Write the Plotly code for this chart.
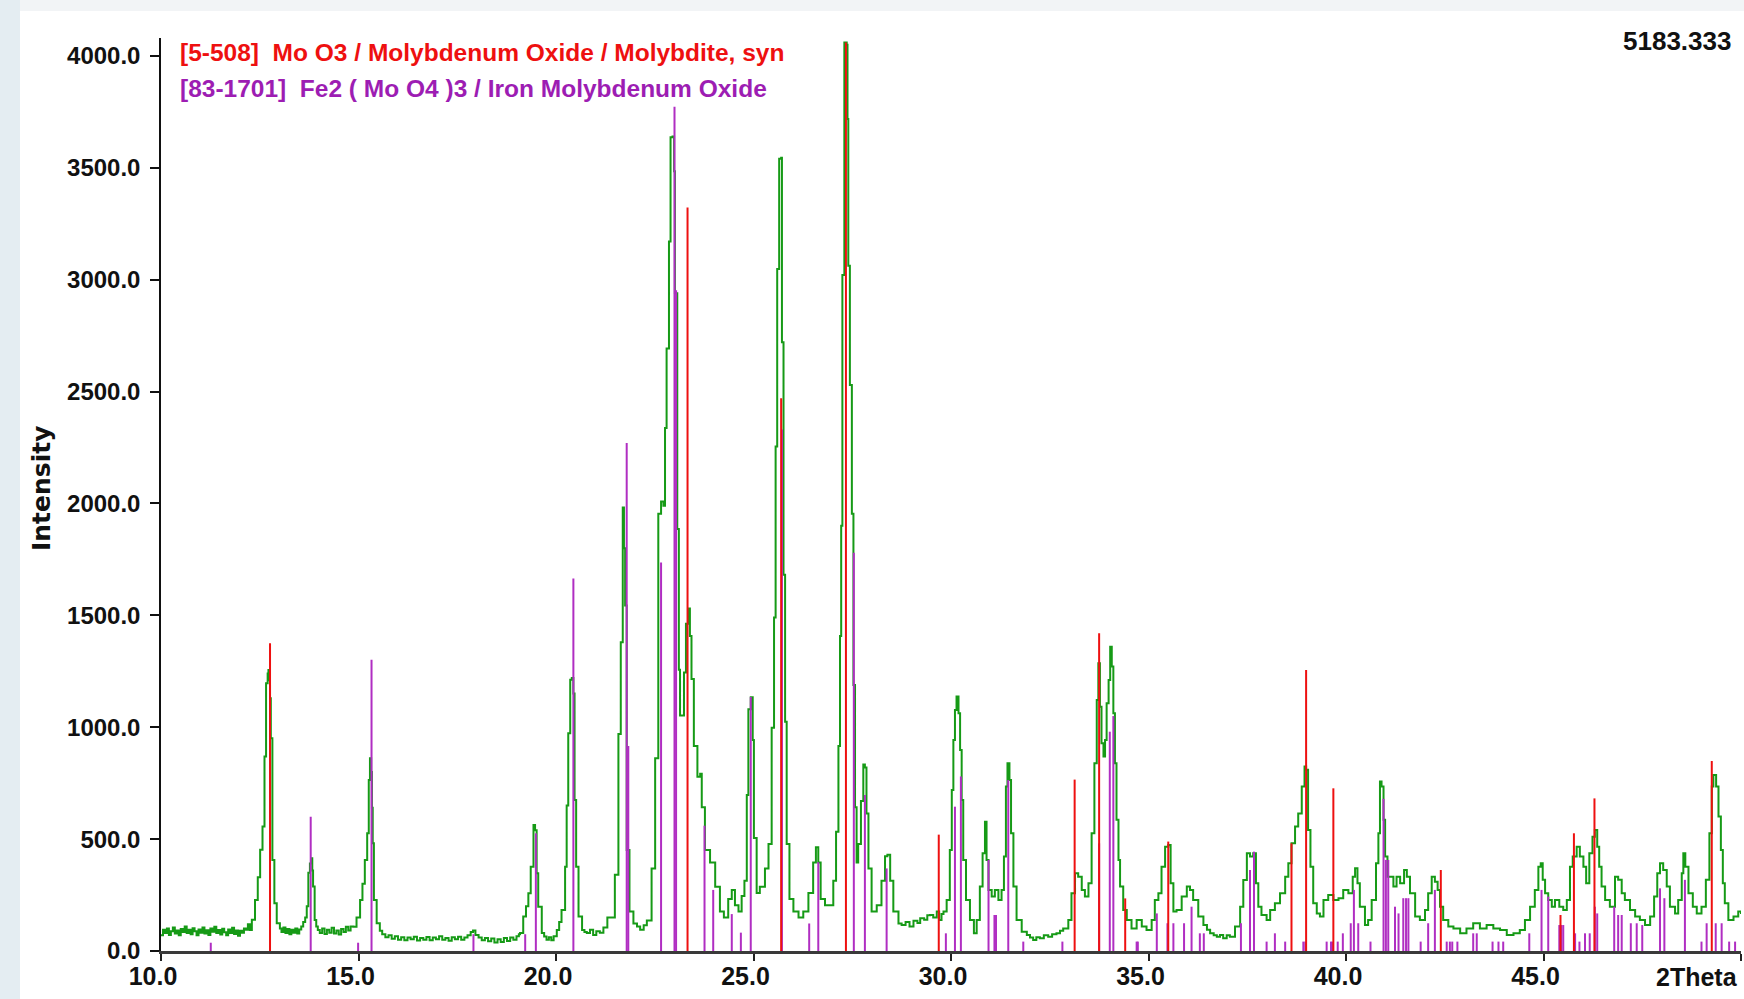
import plotly.graph_objects as go

# ---------------- data ----------------
two_theta = [
    10.00, 10.05, 10.10, 10.15, 10.20, 10.25, 10.30, 10.35, 10.40, 10.45, 10.50, 10.55, 10.60, 10.65,
    10.70, 10.75, 10.80, 10.85, 10.90, 10.95, 11.00, 11.05, 11.10, 11.15, 11.20, 11.25, 11.30, 11.35,
    11.40, 11.45, 11.50, 11.55, 11.60, 11.65, 11.70, 11.75, 11.80, 11.85, 11.90, 11.95, 12.00, 12.05,
    12.10, 12.15, 12.20,
    12.25, 12.30, 12.38, 12.45, 12.51, 12.57, 12.62, 12.66, 12.70, 12.72, 12.74, 12.76, 12.78, 12.82,
    12.87, 12.93, 13.01,
    13.05, 13.10, 13.15, 13.20, 13.25, 13.30, 13.35, 13.40, 13.45, 13.50, 13.55, 13.60,
    13.65, 13.69, 13.73, 13.77, 13.80, 13.83, 13.85, 13.89, 13.93, 13.97,
    14.02, 14.08, 14.14, 14.20, 14.26, 14.32, 14.38, 14.44, 14.50, 14.56, 14.62, 14.68, 14.74, 14.80,
    14.87, 14.95, 15.04, 15.10, 15.16, 15.22, 15.26, 15.29, 15.32, 15.34, 15.36, 15.39, 15.46, 15.54,
    15.60, 15.68, 15.76, 15.84, 15.92, 16.00, 16.08, 16.16, 16.24, 16.32, 16.40, 16.48, 16.56, 16.64,
    16.72, 16.80, 16.88, 16.96, 17.04, 17.12, 17.20, 17.28, 17.36, 17.44, 17.52, 17.60, 17.68, 17.76,
    17.84, 17.90, 17.96, 18.04, 18.12, 18.20, 18.28, 18.36, 18.44, 18.52, 18.60, 18.68, 18.76, 18.84,
    18.92, 19.00, 19.06,
    19.09, 19.17, 19.24, 19.30, 19.36, 19.43, 19.47, 19.51, 19.55, 19.64, 19.70, 19.76,
    19.82, 19.88, 19.94, 20.02,
    20.08, 20.14, 20.23, 20.27, 20.31, 20.36, 20.40, 20.44, 20.47, 20.51, 20.57, 20.66, 20.72, 20.78,
    20.86, 20.94, 21.02, 21.11, 21.20, 21.30,
    21.37, 21.49, 21.58, 21.64, 21.69, 21.72, 21.75, 21.79, 21.86, 21.96, 22.05, 22.13, 22.22, 22.30,
    22.42, 22.51, 22.59, 22.66, 22.72, 22.76, 22.80, 22.86, 22.90, 22.95, 22.99, 23.01, 23.07, 23.11,
    23.14, 23.21, 23.24, 23.29, 23.35, 23.39, 23.43, 23.49, 23.58, 23.65, 23.69, 23.77, 23.90, 24.03,
    24.15, 24.25, 24.36, 24.45, 24.53, 24.62, 24.70, 24.77, 24.83, 24.87, 24.93, 24.98, 25.01, 25.08,
    25.16, 25.29, 25.38, 25.46, 25.52, 25.56, 25.60, 25.65, 25.70, 25.72, 25.76, 25.80, 25.84, 25.91,
    26.01, 26.14, 26.26, 26.39, 26.51, 26.58, 26.64, 26.70, 26.81, 26.94, 27.02, 27.09, 27.15, 27.19,
    27.22, 27.25, 27.30, 27.36, 27.38, 27.40, 27.44, 27.49, 27.53, 27.57, 27.61, 27.65, 27.72, 27.78,
    27.82, 27.86, 27.91, 27.99, 28.12, 28.24, 28.33, 28.39, 28.46, 28.54, 28.67,
    28.75, 28.85, 28.95, 29.05, 29.15, 29.22, 29.32, 29.40, 29.47, 29.55, 29.64, 29.70, 29.76, 29.81,
    29.89, 29.97, 30.02, 30.06, 30.10, 30.14, 30.19, 30.23, 30.27, 30.31, 30.38, 30.48, 30.58, 30.65,
    30.73, 30.80, 30.86, 30.90, 30.95, 31.03, 31.11, 31.20, 31.28, 31.34, 31.39, 31.43, 31.48, 31.52,
    31.58, 31.66, 31.79, 31.92, 32.00, 32.08, 32.16, 32.25, 32.35, 32.46, 32.56, 32.67, 32.76, 32.84,
    32.97, 33.05, 33.14, 33.22, 33.31, 33.39, 33.48, 33.56, 33.63, 33.69, 33.73, 33.77, 33.81, 33.86,
    33.90, 33.94, 33.99, 34.03, 34.07, 34.11, 34.15, 34.19, 34.24, 34.28, 34.36, 34.45, 34.57, 34.70,
    34.83, 34.95, 35.08, 35.16, 35.25, 35.33, 35.42, 35.50, 35.56, 35.63, 35.71, 35.84, 35.97, 36.05,
    36.13, 36.26, 36.39, 36.48, 36.56, 36.65, 36.73, 36.81, 36.89, 36.98, 37.06, 37.19, 37.32, 37.40,
    37.49, 37.57, 37.65, 37.72, 37.78, 37.86, 37.99, 38.08, 38.20, 38.33, 38.46, 38.54, 38.62, 38.71,
    38.79, 38.88, 38.95, 38.99, 39.04, 39.10, 39.17, 39.26, 39.34, 39.43, 39.55, 39.68, 39.81, 39.93,
    40.06, 40.17, 40.23, 40.29, 40.35, 40.48, 40.56, 40.65, 40.76, 40.82, 40.86, 40.90, 40.95, 40.99,
    41.05, 41.11, 41.20, 41.28, 41.37, 41.47, 41.54, 41.62, 41.75, 41.87, 42.00, 42.08, 42.17, 42.25,
    42.32, 42.38, 42.46, 42.59, 42.72, 42.89, 43.05, 43.22, 43.39, 43.56, 43.73, 43.90, 44.07, 44.24,
    44.40, 44.53, 44.66, 44.78, 44.87, 44.93, 44.98, 45.04, 45.12, 45.21, 45.29, 45.40, 45.50, 45.59,
    45.67, 45.74, 45.84, 45.92, 46.01, 46.08, 46.16, 46.24, 46.30, 46.36, 46.41, 46.47, 46.56, 46.68,
    46.81, 46.89, 46.98, 47.06, 47.19, 47.32, 47.44, 47.57, 47.70, 47.80, 47.88, 47.95, 48.03, 48.12,
    48.20, 48.33, 48.41, 48.50, 48.54, 48.59, 48.67, 48.78, 48.88, 49.00, 49.11, 49.20, 49.26, 49.30,
    49.37, 49.43, 49.49, 49.54, 49.59, 49.68, 49.81, 49.93, 50.00,
]
counts = [
    70, 95, 80, 100, 72, 88, 105, 78, 92, 70, 98, 85, 110, 80,
    95, 75, 102, 88, 70, 96, 82, 105, 78, 93, 72, 100, 86, 108,
    80, 94, 74, 99, 84, 70, 96, 80, 104, 76, 92, 68, 90, 82,
    100, 95, 120,
    94, 140, 228, 330, 452, 556, 869, 1196, 1240, 1256, 1210, 1130, 951, 407,
    213, 124, 100,
    85, 105, 80, 98, 75, 95, 82, 100, 78, 96, 110, 130,
    150, 200, 350, 391, 414, 360, 288, 139, 110, 94,
    80, 100, 76, 95, 82, 104, 78, 92, 74, 98, 85, 108, 92, 110,
    108, 150, 228, 300, 407, 526, 764, 861, 800, 640, 481, 228, 124, 90,
    75, 62, 70, 55, 66, 50, 62, 48, 60, 52, 64, 47, 58, 50,
    63, 48, 60, 52, 66, 50, 58, 46, 62, 52, 64, 50, 60, 70,
    85, 92, 72, 60, 48, 58, 44, 56, 38, 52, 40, 58, 45, 60,
    50, 66, 75,
    80, 154, 200, 258, 377, 563, 540, 347, 198, 80, 65, 50,
    62, 48, 66, 94,
    130, 183, 377, 650, 973, 1212, 1220, 1151, 675, 377, 154, 94, 85, 80,
    95, 72, 88, 82, 105, 150,
    150, 341, 970, 1380, 1982, 1800, 1544, 451, 177, 123, 110, 95, 115, 136,
    369, 861, 1954, 2009, 1990, 2337, 2693, 3171, 3636, 3640, 3485, 2939, 1886, 1257,
    1052, 1052, 1244, 1462, 1531, 1408, 1216, 916, 779, 792, 642, 451, 396, 287,
    177, 150, 232, 273, 205, 177, 246, 314, 697, 1080, 1134, 943, 505, 259,
    287, 369, 478, 998, 1490, 2255, 3048, 3540, 3545, 2720, 1681, 1025, 478, 232,
    177, 150, 177, 259, 396, 464, 396, 232, 205, 205, 314, 533, 916, 1408,
    1900, 3021, 4060, 4050, 3718, 3062, 2529, 1954, 1189, 642, 396, 478, 670, 833,
    820, 615, 369, 177, 205, 314, 423, 430, 314, 177, 123,
    116, 130, 110, 135, 125, 146, 140, 160, 161, 150, 176, 139, 165, 176,
    228, 451, 720, 943, 1077, 1137, 1062, 898, 675, 407, 228, 139, 79, 139,
    288, 437, 578, 407, 273, 243, 273, 228, 273, 422, 735, 839, 764, 526,
    288, 139, 86, 72, 60, 49, 62, 57, 70, 64, 75, 79, 90, 101,
    139, 258, 347, 332, 273, 243, 303, 526, 839, 1122, 1286, 1092, 928, 869,
    943, 1107, 1211, 1360, 1271, 1062, 839, 586, 407, 288, 183, 139, 101, 139,
    109, 94, 139, 228, 258, 377, 466, 474, 303, 176, 183, 243, 288, 273,
    228, 154, 116, 95, 79, 70, 64, 72, 57, 70, 64, 109, 198, 317,
    437, 422, 437, 303, 198, 161, 139, 183, 213, 258, 332, 392, 481, 556,
    615, 735, 824, 810, 541, 377, 213, 168, 154, 228, 250, 228, 236, 273,
    258, 332, 370, 303, 198, 116, 139, 228, 392, 526, 757, 735, 586, 422,
    332, 332, 288, 332, 303, 362, 332, 258, 154, 139, 183, 258, 332, 310,
    273, 198, 139, 109, 101, 79, 101, 124, 101, 116, 101, 94, 72, 79,
    94, 139, 198, 273, 377, 392, 318, 258, 228, 198, 228, 198, 183, 228,
    377, 422, 466, 422, 377, 303, 437, 511, 541, 466, 377, 288, 228, 198,
    332, 318, 258, 228, 183, 154, 139, 116, 154, 243, 347, 392, 362, 288,
    198, 168, 228, 347, 437, 377, 258, 198, 168, 198, 318, 526, 735, 787,
    735, 601, 451, 303, 213, 139, 154, 176, 165,
]

# [5-508] MoO3 reference lines
moo3_pos = [12.76, 23.33, 25.70, 27.34, 29.69, 33.13, 33.75, 34.41, 35.50, 38.62, 38.99,
            39.68, 42.40, 45.43, 45.77, 46.29, 49.26]
moo3_int = [1375, 3322, 2470, 4060, 520, 766, 1420, 235, 489, 481, 1256,
            727, 362, 161, 526, 682, 849]

# [83-1701] Fe2(MoO4)3 reference lines
femo_pos = [11.26, 13.79, 14.99, 15.33, 17.91, 19.22, 19.49, 20.44, 21.79, 21.83, 22.66,
            23.00, 23.04, 23.76, 23.98, 24.45, 24.68, 24.93, 25.72, 26.41, 26.64, 27.54,
            27.82, 28.37, 29.87, 30.10, 30.25, 30.95, 31.10, 31.14, 31.45, 31.83, 32.82,
            33.75, 34.02, 34.11, 34.70, 34.73, 35.21, 35.48, 35.63, 35.90, 36.09, 36.30,
            36.40, 37.34, 37.57, 37.67, 37.99, 38.20, 38.46, 38.92, 38.97, 39.51, 39.62,
            39.66, 39.79, 39.92, 40.12, 40.20, 40.31, 40.62, 40.95, 41.01, 41.07, 41.24,
            41.33, 41.45, 41.52, 41.58, 41.89, 42.08, 42.25, 42.55, 42.63, 42.69, 42.82,
            43.22, 43.31, 43.71, 43.86, 43.98, 44.64, 44.95, 45.12, 45.40, 45.45, 45.50,
            45.80, 45.91, 46.05, 46.17, 46.30, 46.36, 46.79, 46.89, 46.98, 47.21, 47.36,
            47.50, 47.95, 48.06, 48.58, 49.00, 49.13, 49.36, 49.51, 49.70, 49.85]
femo_int = [37, 600, 37, 1301, 75, 75, 526, 1665, 2270, 916, 1736,
            3773, 2953, 560, 273, 165, 82, 1135, 2330, 123, 397, 1780,
            697, 369, 79, 645, 780, 407, 161, 161, 764, 42, 42,
            481, 980, 1050, 42, 42, 168, 124, 124, 124, 198, 79,
            79, 124, 362, 444, 42, 79, 42, 42, 42, 42, 42,
            42, 42, 79, 124, 273, 124, 42, 680, 407, 407, 198,
            168, 236, 236, 236, 42, 124, 273, 42, 42, 42, 42,
            79, 79, 42, 42, 42, 79, 273, 243, 116, 116, 116,
            79, 42, 79, 79, 198, 168, 198, 161, 161, 124, 124,
            116, 280, 236, 318, 42, 124, 124, 124, 42, 42]

x_ticks = [10, 15, 20, 25, 30, 35, 40, 45, 50]
x_tick_text = ["10.0", "15.0", "20.0", "25.0", "30.0", "35.0", "40.0", "45.0", ""]
y_ticks = [0, 500, 1000, 1500, 2000, 2500, 3000, 3500, 4000]
y_tick_text = ["0.0", "500.0", "1000.0", "1500.0", "2000.0", "2500.0", "3000.0", "3500.0", "4000.0"]
legend_lines = ["[5-508]  Mo O3 / Molybdenum Oxide / Molybdite, syn",
                "[83-1701]  Fe2 ( Mo O4 )3 / Iron Molybdenum Oxide"]
max_label = "5183.333"

# ---------------- styling / layout ----------------
W, H = 1744, 999
ML, MR, MT, MB = 161, 3, 38, 48
PW, PH = W - ML - MR, H - MT - MB
GREEN = "#169a16"
RED = "#ee1010"
PURPLE = "#b02ec2"
PURPLE_TXT = "#9d1db3"
SANS = "Liberation Sans, Arial, sans-serif"


def px(xp):
    return (xp - ML) / PW


def py(yp):
    return (H - MB - yp) / PH


def sticks(pos, inten):
    xs, ys = [], []
    for p, i in zip(pos, inten):
        xs += [p, p, None]
        ys += [0, i, None]
    return xs, ys


fig = go.Figure()
fig.add_trace(go.Scatter(x=two_theta, y=counts, mode="lines",
                         line=dict(color=GREEN, width=2, shape="hv"),
                         hoverinfo="skip", showlegend=False))
fx, fy = sticks(femo_pos, femo_int)
fig.add_trace(go.Scatter(x=fx, y=fy, mode="lines", line=dict(color=PURPLE, width=2),
                         hoverinfo="skip", showlegend=False))
rx, ry = sticks(moo3_pos, moo3_int)
fig.add_trace(go.Scatter(x=rx, y=ry, mode="lines", line=dict(color=RED, width=2),
                         hoverinfo="skip", showlegend=False))

fig.update_layout(
    width=W, height=H,
    margin=dict(l=ML, r=MR, t=MT, b=MB, pad=0),
    paper_bgcolor="white", plot_bgcolor="white",
    showlegend=False,
    font=dict(family=SANS, color="#111111"),
    xaxis=dict(range=[10, 50], tickvals=x_ticks, ticktext=x_tick_text,
               showgrid=False, zeroline=False, showline=True, linecolor="#3a3a3a", linewidth=3,
               ticks="outside", ticklen=7, tickwidth=2, tickcolor="#222",
               tickfont=dict(family=SANS, size=25, color="#111", weight="bold"),
               ticklabelshift=-8, ticklabelstandoff=-6),
    yaxis=dict(range=[0, 4080], tickvals=y_ticks, ticktext=y_tick_text,
               showgrid=False, zeroline=False, showline=True, linecolor="#111", linewidth=1.5,
               ticks="outside", ticklen=9, tickwidth=1.5, tickcolor="#111",
               tickfont=dict(family=SANS, size=24, color="#111", weight="bold"),
               ticklabelstandoff=5),
    shapes=[
        dict(type="rect", xref="paper", yref="paper", x0=px(0), x1=px(20), y0=py(999), y1=py(0),
             fillcolor="#e4edf2", line=dict(width=0), layer="below"),
        dict(type="rect", xref="paper", yref="paper", x0=px(20), x1=px(1744), y0=py(11), y1=py(0),
             fillcolor="#f2f4f6", line=dict(width=0), layer="below"),
    ],
    annotations=[
        dict(text=legend_lines[0], xref="paper", yref="paper", x=px(178), y=py(53),
             xanchor="left", yanchor="middle", showarrow=False,
             font=dict(family=SANS, size=24.5, color=RED, weight="bold")),
        dict(text=legend_lines[1], xref="paper", yref="paper", x=px(178), y=py(89),
             xanchor="left", yanchor="middle", showarrow=False,
             font=dict(family=SANS, size=24.5, color=PURPLE_TXT, weight="bold")),
        dict(text=max_label, xref="paper", yref="paper", x=px(1733), y=py(41),
             xanchor="right", yanchor="middle", showarrow=False,
             font=dict(family=SANS, size=26, color="#111", weight="bold")),
        dict(text="Intensity", xref="paper", yref="paper", x=px(41), y=py(488),
             xanchor="center", yanchor="middle", showarrow=False, textangle=-90,
             font=dict(family="DejaVu Sans, Arial, sans-serif", size=25, color="#111", weight="bold")),
        dict(text="2Theta", xref="paper", yref="paper", x=px(1740), y=py(977),
             xanchor="right", yanchor="middle", showarrow=False,
             font=dict(family=SANS, size=25, color="#111", weight="bold")),
    ],
)

fig.write_html("out.html", config={"displayModeBar": False},
               post_script="document.body.style.margin='0';document.body.style.overflow='hidden';")
